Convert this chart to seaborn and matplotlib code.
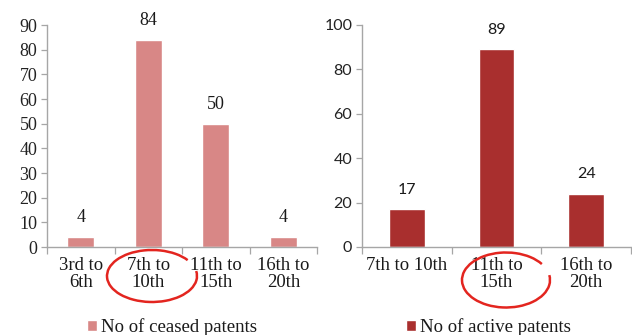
import numpy as np
import pandas as pd
import matplotlib
matplotlib.use("Agg")
import matplotlib.pyplot as plt
from matplotlib.patches import Arc
from matplotlib.ticker import FixedLocator
from matplotlib.font_manager import FontProperties
import seaborn as sns

# Ceased patents by age band
ceased_labels = ["3rd to\n6th", "7th to\n10th", "11th to\n15th", "16th to\n20th"]
ceased_values = [4, 84, 50, 4]

# Active patents by age band
active_labels = ["7th to 10th", "11th to\n15th", "16th to\n20th"]
active_values = [17, 89, 24]

ceased_color = "#D88786"
active_color = "#A92F2E"
axis_gray = "#A6A6A6"
ring_red = "#E3251F"


def serif(size):
    return FontProperties(family=["Liberation Serif", "DejaVu Serif"], size=size)


def sans(size):
    return FontProperties(family=["Lato", "DejaVu Sans"], size=size)


sns.set_style("white")
plt.rcParams["font.family"] = ["Liberation Serif", "DejaVu Serif"]

fig = plt.figure(figsize=(6.32, 3.35), dpi=100)
W, H = 632, 335


def px_axes(x0, y0, x1, y1):
    return fig.add_axes([x0 / W, 1 - y1 / H, (x1 - x0) / W, (y1 - y0) / H])


ax_l = px_axes(47, 25, 317, 247)
ax_r = px_axes(362, 25, 631, 247)

df_l = pd.DataFrame({"band": ceased_labels, "count": ceased_values})
df_r = pd.DataFrame({"band": active_labels, "count": active_values})

sns.barplot(data=df_l, x="band", y="count", color=ceased_color, width=0.4,
            saturation=1, ax=ax_l, label="No of ceased patents")
sns.barplot(data=df_r, x="band", y="count", color=active_color, width=0.4,
            saturation=1, ax=ax_r, label="No of active patents")


def style_axes(ax, n, ymax, ystep, ytick_font):
    ax.set_xlim(-0.5, n - 0.5)
    ax.set_ylim(0, ymax)
    ax.set_yticks(np.arange(0, ymax + 1, ystep))
    ax.set_xlabel("")
    ax.set_ylabel("")
    for side in ["top", "right"]:
        ax.spines[side].set_visible(False)
    for side in ["left", "bottom"]:
        ax.spines[side].set_color(axis_gray)
        ax.spines[side].set_linewidth(1.0)
    ax.tick_params(axis="y", which="major", direction="out", length=4,
                   width=0.9, color=axis_gray, pad=3, left=True)
    for t in ax.get_yticklabels():
        t.set_fontproperties(ytick_font)
        t.set_color("#222222")
    # category labels sit between boundary tick marks
    ax.tick_params(axis="x", which="major", length=0, pad=7)
    ax.xaxis.set_minor_locator(FixedLocator(np.arange(-0.5, n, 1.0)))
    ax.tick_params(axis="x", which="minor", direction="out", length=5,
                   width=0.9, color=axis_gray, bottom=True)
    for t in ax.get_xticklabels():
        t.set_fontproperties(serif(13.5))
        t.set_color("#1a1a1a")
        t.set_linespacing(1.05)
    ax.grid(False)


style_axes(ax_l, 4, 90, 10, serif(13))
style_axes(ax_r, 3, 100, 20, sans(11.5))

# value labels above the bars
ax_l.bar_label(ax_l.containers[0], labels=[str(v) for v in ceased_values],
               padding=8, fontproperties=serif(13), color="#1a1a1a")
ax_r.bar_label(ax_r.containers[0], labels=[str(v) for v in active_values],
               padding=9, fontproperties=sans(11.5), color="#1a1a1a")

# legends under each panel
for ax, cx in [(ax_l, 172), (ax_r, 488)]:
    h, lab = ax.get_legend_handles_labels()
    ax.legend(h[:1], lab[:1], loc="center", bbox_to_anchor=(cx / W, 1 - 327 / H),
              bbox_transform=fig.transFigure, frameon=False,
              prop=serif(13.5),
              handlelength=0.55, handleheight=0.55, handletextpad=0.2,
              borderpad=0, labelcolor="#1a1a1a")

# red rings highlighting the peak age bands
for cx, cy, w, h in [(152, 276, 90, 52), (506, 280, 88, 55)]:
    ring = Arc((cx / W, 1 - cy / H), w / W, h / H, theta1=40, theta2=372,
               transform=fig.transFigure, color=ring_red, lw=1.8,
               clip_on=False)
    fig.add_artist(ring)

fig.savefig("out.png", dpi=100)
